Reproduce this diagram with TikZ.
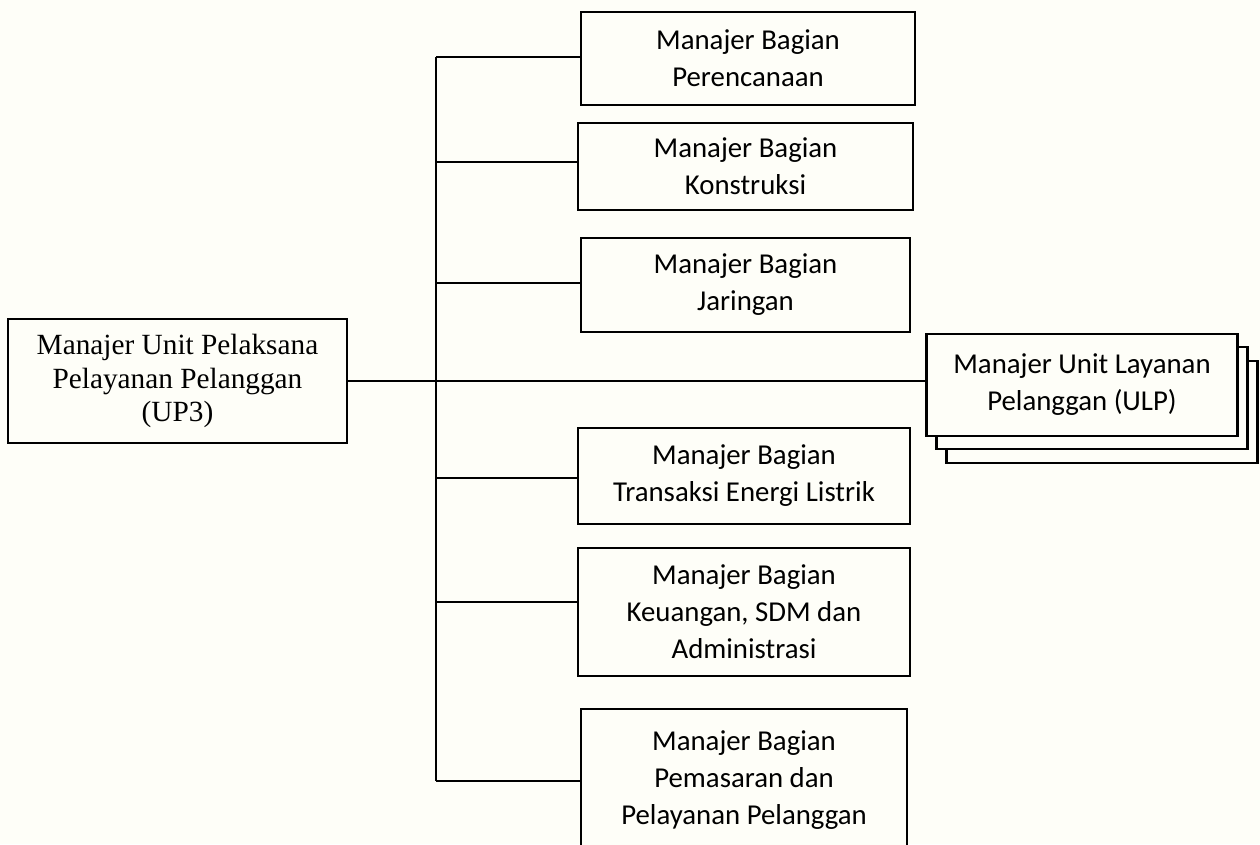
\documentclass[tikz,border=0pt]{standalone}
\usepackage{fontspec}
\setmainfont{Liberation Serif}
\newfontfamily\calib{Carlito}
\definecolor{bgcream}{RGB}{254,254,248}
\begin{document}
\begin{tikzpicture}[x=1pt,y=-1pt,
  sbox/.style={draw=black,line width=2.2pt,fill=bgcream,align=center,inner sep=0pt,
    font=\calib\fontsize{28.8}{37}\selectfont},
  lbox/.style={draw=black,line width=2.4pt,fill=bgcream,align=center,inner sep=0pt,
    font=\fontsize{29.3}{33.5}\selectfont},
  conn/.style={draw=black,line width=1.3pt}]
\fill[bgcream] (0,0) rectangle (1260,844);
\useasboundingbox (0,0) rectangle (1260,844);
\clip (0,0) rectangle (1260,844);
% left main box
\node[lbox,minimum width=339pt,minimum height=124pt] (up3) at (177.5,381)
  {Manajer Unit Pelaksana\\Pelayanan Pelanggan\\(UP3)};
% right boxes
\node[sbox,minimum width=334pt,minimum height=93pt] (b1) at (748,58.5)
  {Manajer Bagian\\Perencanaan};
\node[sbox,minimum width=335pt,minimum height=87pt] (b2) at (745.5,166.5)
  {Manajer Bagian\\Konstruksi};
\node[sbox,minimum width=329pt,minimum height=94pt] (b3) at (745.5,285)
  {Manajer Bagian\\Jaringan};
\node[sbox,minimum width=332pt,minimum height=96pt] (b4) at (744,476)
  {Manajer Bagian\\Transaksi Energi Listrik};
\node[sbox,minimum width=332pt,minimum height=128pt] (b5) at (744,612)
  {Manajer Bagian\\Keuangan, SDM dan\\Administrasi};
\node[sbox,minimum width=326pt,minimum height=142pt] (b6) at (744,780)
  {Manajer Bagian\\Pemasaran dan\\Pelayanan Pelanggan};
% ULP stacked boxes
\node[sbox,minimum width=311pt,minimum height=102pt] (ulp3) at (1102,412) {};
\node[sbox,minimum width=311pt,minimum height=102pt] (ulp2) at (1092,398) {};
\node[sbox,minimum width=311pt,minimum height=102pt] (ulp) at (1082,385)
  {Manajer Unit Layanan\\Pelanggan (ULP)};
% trunk coordinates
\coordinate (l1) at (436,57);
\coordinate (l2) at (436,162);
\coordinate (l3) at (436,283);
\coordinate (l4) at (436,478);
\coordinate (l5) at (436,602);
\coordinate (l6) at (436,781);
\draw[conn] (l1) -- (l6);
\draw[conn] (l1) -- (l1 -| b1.west);
\draw[conn] (l2) -- (l2 -| b2.west);
\draw[conn] (l3) -- (l3 -| b3.west);
\draw[conn] (l4) -- (l4 -| b4.west);
\draw[conn] (l5) -- (l5 -| b5.west);
\draw[conn] (l6) -- (l6 -| b6.west);
\draw[conn] (up3.east) -- (up3.east -| ulp.west);
\end{tikzpicture}
\end{document}
